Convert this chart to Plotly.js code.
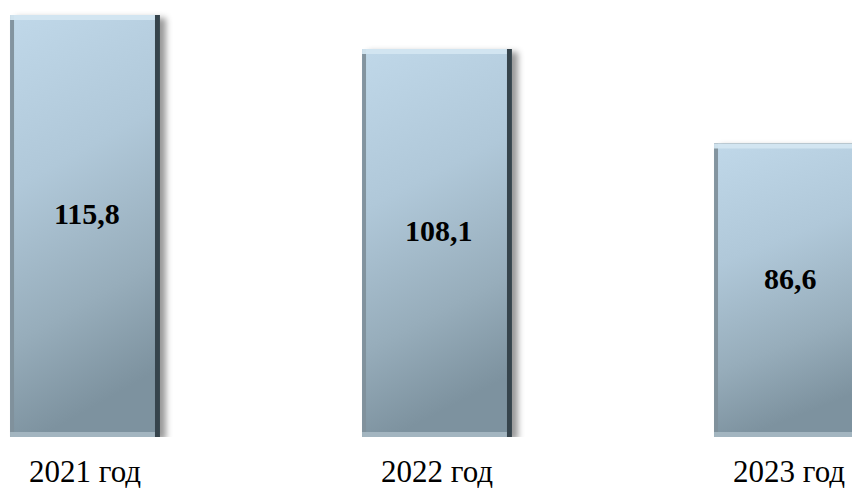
<!DOCTYPE html>
<html>
<head>
<meta charset="utf-8">
<script src="https://cdn.plot.ly/plotly-3.0.1.min.js"></script>
<style>
  html, body { margin: 0; padding: 0; background: #ffffff; }
  #chart { width: 852px; height: 488px; }
</style>
</head>
<body>
<div id="chart"></div>
<script>
const categories = ['2021 год', '2022 год', '2023 год'];
const values = [115.8, 108.1, 86.6];
const axisMin = 20;
const axisMax = 119.2;

const serif = 'Liberation Serif, Times New Roman, serif';

// bars start at the bottom of the visible axis (axisMin) and end at the value
const trace = {
  type: 'bar',
  x: categories,
  y: values.map(function (v) { return v - axisMin; }),
  base: axisMin,
  width: 0.426,
  marker: { color: '#a3bccb', line: { width: 0 } },
  hoverinfo: 'none'
};

const annotations = categories.map(function (c, i) {
  return {
    x: c,
    y: (values[i] + axisMin) / 2,
    xref: 'x', yref: 'y',
    text: '<b>' + values[i].toFixed(1).replace('.', ',') + '</b>',
    showarrow: false,
    yshift: 12,
    xshift: 2,
    font: { family: serif, size: 30, color: '#000000' }
  };
});

const layout = {
  width: 852,
  height: 488,
  margin: { l: 0, r: 0, t: 0, b: 51, pad: 0 },
  paper_bgcolor: '#ffffff',
  plot_bgcolor: '#ffffff',
  showlegend: false,
  annotations: annotations,
  xaxis: {
    type: 'category',
    range: [-0.2415, 2.179],
    showgrid: false,
    zeroline: false,
    showline: false,
    ticks: 'outside',
    ticklen: 7,
    tickcolor: 'rgba(0,0,0,0)',
    tickfont: { family: serif, size: 31, color: '#000000' }
  },
  yaxis: {
    range: [axisMin, axisMax],
    visible: false,
    showgrid: false,
    zeroline: false
  }
};

Plotly.newPlot('chart', [trace], layout, { staticPlot: true, displayModeBar: false }).then(function (gd) {
  const svg = gd.querySelector('svg.main-svg');
  const ns = 'http://www.w3.org/2000/svg';
  function el(tag, attrs, parent) {
    const e = document.createElementNS(ns, tag);
    Object.keys(attrs).forEach(function (k) { e.setAttribute(k, attrs[k]); });
    if (parent) parent.appendChild(e);
    return e;
  }
  let defs = svg.querySelector('defs');
  if (!defs) { defs = el('defs', {}); svg.insertBefore(defs, svg.firstChild); }

  const grad = el('linearGradient', { id: 'barGrad', x1: '0', y1: '0', x2: '0.2', y2: '1' }, defs);
  [['0', '#c0d8e9'], ['0.4', '#b0c8d9'], ['0.75', '#97adbb'], ['1', '#7d929f']].forEach(function (s) {
    el('stop', { offset: s[0], 'stop-color': s[1] }, grad);
  });

  const f = el('filter', { id: 'bevel', x: '-5%', y: '-3%', width: '120%', height: '108%', 'color-interpolation-filters': 'sRGB' }, defs);
  // shadow
  el('feGaussianBlur', { in: 'SourceAlpha', stdDeviation: '3', result: 'blur' }, f);
  el('feOffset', { in: 'blur', dx: '6', dy: '3', result: 'offBlur' }, f);
  el('feFlood', { 'flood-color': '#000000', 'flood-opacity': '0.4', result: 'shC' }, f);
  el('feComposite', { in: 'shC', in2: 'offBlur', operator: 'in', result: 'shadow' }, f);
  // bevel strips
  function strip(name, dx, dy, color, op) {
    el('feOffset', { in: 'SourceAlpha', dx: dx, dy: dy, result: name + 'Off' }, f);
    el('feComposite', { in: 'SourceAlpha', in2: name + 'Off', operator: 'out', result: name + 'Mask0' }, f);
    el('feGaussianBlur', { in: name + 'Mask0', stdDeviation: '0.7', result: name + 'Blur' }, f);
    el('feComposite', { in: name + 'Blur', in2: 'SourceAlpha', operator: 'in', result: name + 'Mask' }, f);
    el('feFlood', { 'flood-color': color, 'flood-opacity': op, result: name + 'C' }, f);
    el('feComposite', { in: name + 'C', in2: name + 'Mask', operator: 'in', result: name }, f);
  }
  strip('left', '4', '0', '#7f909b', '0.95');
  strip('bottom', '0', '-5', '#a9bbc6', '0.85');
  strip('top', '0', '5', '#d3e5f1', '0.95');
  strip('right', '-5', '0', '#36444c', '1');
  const m = el('feMerge', {}, f);
  ['shadow', 'SourceGraphic', 'left', 'bottom', 'top', 'right'].forEach(function (n) {
    el('feMergeNode', { in: n }, m);
  });

  gd.querySelectorAll('.bars .point path').forEach(function (p) {
    p.style.fill = 'url(#barGrad)';
    p.style.stroke = 'none';
    p.setAttribute('filter', 'url(#bevel)');
  });
});
</script>
</body>
</html>
